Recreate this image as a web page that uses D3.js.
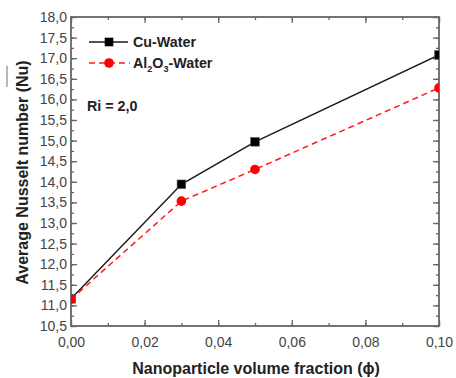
<!DOCTYPE html>
<html>
<head>
<meta charset="utf-8">
<script src="https://cdn.jsdelivr.net/npm/d3@7"></script>
<style>
  html, body { margin: 0; padding: 0; background: #fff; }
  svg { display: block; }
  text { font-family: "Liberation Sans", Arial, sans-serif; }
</style>
</head>
<body>
<svg id="chart" width="456" height="378"></svg>
<script>
// Volume fraction of nanoparticles (x) and average Nusselt number (y)
const phi = [0.00, 0.03, 0.05, 0.10];
const nuCuWater = [11.16, 13.94, 14.97, 17.08];
const nuAl2O3Water = [11.15, 13.53, 14.30, 16.28];
const xTickValues = [0.00, 0.02, 0.04, 0.06, 0.08, 0.10];
const yTickValues = [10.5, 11.0, 11.5, 12.0, 12.5, 13.0, 13.5, 14.0, 14.5, 15.0, 15.5, 16.0, 16.5, 17.0, 17.5, 18.0];
const richardsonLabel = "Ri = 2,0";

const svg = d3.select("#chart");
const plot = { left: 71, right: 439, top: 17, bottom: 326 };

const x = d3.scaleLinear().domain([0, 0.10]).range([plot.left, plot.right]);
const y = d3.scaleLinear().domain([10.5, 18.0]).range([plot.bottom, plot.top]);

const comma = d => d3.format(".2f")(d).replace(".", ",");
const commaY = d => d3.format(".1f")(d).replace(".", ",");

const axisColor = "#666";
const labelColor = "#444";

// Minor ticks
const xMinor = d3.range(0, 0.1001, 0.01);
const yMinor = d3.range(10.5, 18.001, 0.25);

function styleAxis(g) {
  g.select(".domain").remove();
  g.selectAll(".tick line").attr("stroke", axisColor).attr("stroke-width", 1.3);
  g.selectAll(".tick text").attr("fill", labelColor).style("font-size", "14px");
}

// Bottom axis: minor then major ticks (pointing inward)
svg.append("g").attr("transform", `translate(0,${plot.bottom})`)
  .call(d3.axisBottom(x).tickValues(xMinor).tickSize(-3).tickFormat(""))
  .call(styleAxis);
svg.append("g").attr("transform", `translate(0,${plot.bottom})`)
  .call(d3.axisBottom(x).tickValues(xTickValues).tickSize(-6).tickPadding(11).tickFormat(comma))
  .call(styleAxis);
// Top axis
svg.append("g").attr("transform", `translate(0,${plot.top})`)
  .call(d3.axisTop(x).tickValues(xMinor).tickSize(-3).tickFormat(""))
  .call(styleAxis);
svg.append("g").attr("transform", `translate(0,${plot.top})`)
  .call(d3.axisTop(x).tickValues(xTickValues).tickSize(-6).tickFormat(""))
  .call(styleAxis);
// Left axis
svg.append("g").attr("transform", `translate(${plot.left},0)`)
  .call(d3.axisLeft(y).tickValues(yMinor).tickSize(-3).tickFormat(""))
  .call(styleAxis);
svg.append("g").attr("transform", `translate(${plot.left},0)`)
  .call(d3.axisLeft(y).tickValues(yTickValues).tickSize(-6).tickPadding(4).tickFormat(commaY))
  .call(styleAxis);
// Right axis
svg.append("g").attr("transform", `translate(${plot.right},0)`)
  .call(d3.axisRight(y).tickValues(yMinor).tickSize(-3).tickFormat(""))
  .call(styleAxis);
svg.append("g").attr("transform", `translate(${plot.right},0)`)
  .call(d3.axisRight(y).tickValues(yTickValues).tickSize(-6).tickFormat(""))
  .call(styleAxis);

// Frame
svg.append("rect")
  .attr("x", plot.left).attr("y", plot.top)
  .attr("width", plot.right - plot.left).attr("height", plot.bottom - plot.top)
  .attr("fill", "none").attr("stroke", axisColor).attr("stroke-width", 1.8);

// Clip series to the plot area
svg.append("clipPath").attr("id", "plot-clip")
  .append("rect")
  .attr("x", plot.left).attr("y", plot.top)
  .attr("width", plot.right - plot.left).attr("height", plot.bottom - plot.top);

const line = d3.line().x(d => x(d[0])).y(d => y(d[1]));

const cuPts = phi.map((p, i) => [p, nuCuWater[i]]);
const alPts = phi.map((p, i) => [p, nuAl2O3Water[i]]);

const series = svg.append("g").attr("clip-path", "url(#plot-clip)");
series.append("path").datum(cuPts).attr("d", line)
  .attr("fill", "none").attr("stroke", "#1a1a1a").attr("stroke-width", 1.5);
series.selectAll("rect.cu").data(cuPts).join("rect").attr("class", "cu")
  .attr("x", d => x(d[0]) - 4.3).attr("y", d => y(d[1]) - 4.3)
  .attr("width", 8.6).attr("height", 8.6)
  .attr("fill", "#000").attr("stroke", "#555").attr("stroke-width", 0.6);

series.append("path").datum(alPts).attr("d", line)
  .attr("fill", "none").attr("stroke", "#ff1a1a").attr("stroke-width", 1.5)
  .attr("stroke-dasharray", "6,4");
series.selectAll("circle.al").data(alPts).join("circle").attr("class", "al")
  .attr("cx", d => x(d[0])).attr("cy", d => y(d[1])).attr("r", 4.8)
  .attr("fill", "#ff0000");

// Legend
const legend = svg.append("g");
legend.append("line").attr("x1", 89).attr("x2", 128).attr("y1", 42).attr("y2", 42)
  .attr("stroke", "#1a1a1a").attr("stroke-width", 1.5);
legend.append("rect").attr("x", 109 - 4.3).attr("y", 42 - 4.3).attr("width", 8.6).attr("height", 8.6)
  .attr("fill", "#000");
legend.append("text").attr("x", 133).attr("y", 47).attr("font-weight", "bold")
  .style("font-size", "14.3px").attr("fill", "#222").text("Cu-Water");

legend.append("line").attr("x1", 89).attr("x2", 130).attr("y1", 63).attr("y2", 63)
  .attr("stroke", "#ff1a1a").attr("stroke-width", 1.5).attr("stroke-dasharray", "6,4");
legend.append("circle").attr("cx", 109).attr("cy", 63).attr("r", 4.8).attr("fill", "#ff0000");
const alText = legend.append("text").attr("x", 133).attr("y", 68).attr("font-weight", "bold")
  .style("font-size", "14.3px").attr("fill", "#222");
alText.append("tspan").text("Al");
alText.append("tspan").attr("dy", 4).style("font-size", "9px").text("2");
alText.append("tspan").attr("dy", -4).text("O");
alText.append("tspan").attr("dy", 4).style("font-size", "9px").text("3");
alText.append("tspan").attr("dy", -4).text("-Water");

svg.append("text").attr("x", 87).attr("y", 111).attr("font-weight", "bold")
  .style("font-size", "14.3px").attr("fill", "#222").text(richardsonLabel);

// Axis titles
svg.append("text").attr("x", 256).attr("y", 374)
  .attr("text-anchor", "middle").attr("font-weight", "bold")
  .style("font-size", "16px").attr("fill", "#222")
  .text("Nanoparticle volume fraction (\u03D5)");

const yTitleText = "Average Nusselt number (Nu)";
const yTitleTransform = "translate(28,172.5) rotate(-90)";
const yTitle = svg.append("text")
  .attr("transform", yTitleTransform)
  .attr("text-anchor", "middle").attr("font-weight", "bold")
  .style("font-size", "16px").attr("fill", "#222")
  .text(yTitleText);

// Overbar above "Nu"
const node = yTitle.node();
const total = node.getComputedTextLength();
const iN = yTitleText.lastIndexOf("Nu");
const start = -total / 2 + node.getSubStringLength(0, iN);
const end = start + node.getSubStringLength(iN, 2);
svg.append("line")
  .attr("transform", yTitleTransform)
  .attr("x1", start).attr("x2", end)
  .attr("y1", -21).attr("y2", -21)
  .attr("stroke", "#888").attr("stroke-width", 1.2);
</script>
</body>
</html>
